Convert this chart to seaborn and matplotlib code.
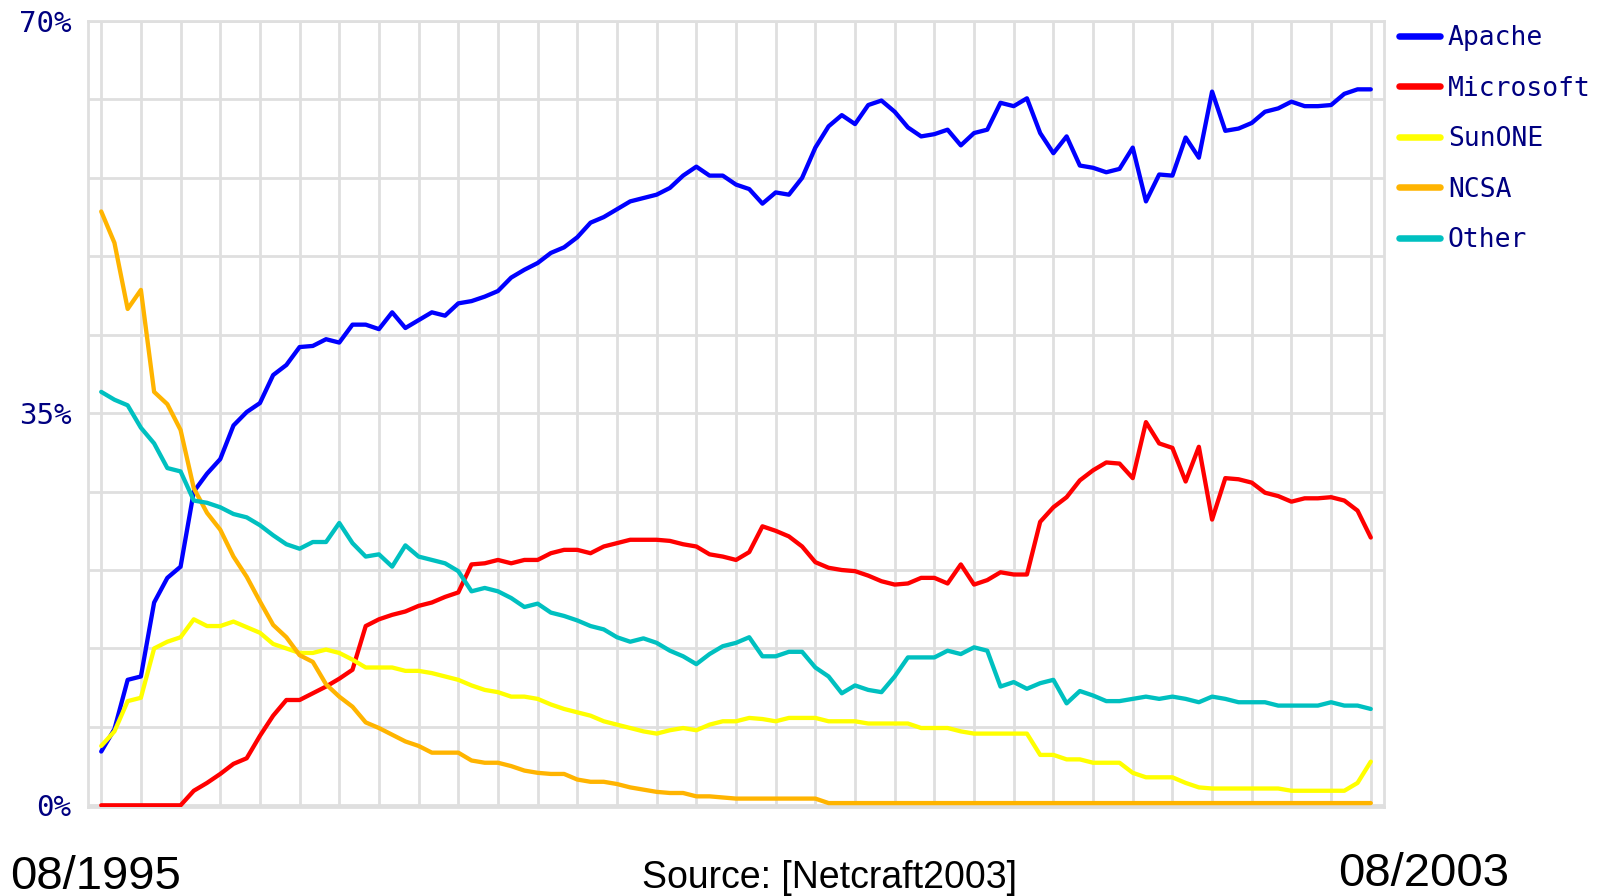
import matplotlib
matplotlib.use("Agg")
import matplotlib.pyplot as plt
import pandas as pd
import seaborn as sns

# monthly samples, 08/1995 .. 08/2003 (97 months), market share in %
months = list(range(97))

apache = [4.8, 6.8, 11.2, 11.5, 18.1, 20.3, 21.3, 28.0, 29.6, 30.9,
          33.9, 35.1, 35.9, 38.4, 39.3, 40.9, 41.0, 41.6, 41.3, 42.9,
          42.9, 42.5, 44.0, 42.6, 43.3, 44.0, 43.7, 44.8, 45.0, 45.4,
          45.9, 47.1, 47.8, 48.4, 49.3, 49.8, 50.7, 52.0, 52.5, 53.2,
          53.9, 54.2, 54.5, 55.1, 56.2, 57.0, 56.2, 56.2, 55.4, 55.0,
          53.7, 54.7, 54.5, 56.0, 58.7, 60.6, 61.6, 60.8, 62.5, 62.9,
          61.9, 60.5, 59.7, 59.9, 60.3, 58.9, 60.0, 60.3, 62.7, 62.4,
          63.1, 60.0, 58.2, 59.7, 57.1, 56.9, 56.5, 56.8, 58.7, 53.9,
          56.3, 56.2, 59.6, 57.8, 63.7, 60.2, 60.4, 60.9, 61.9, 62.2,
          62.8, 62.4, 62.4, 62.5, 63.5, 63.9, 63.9]

microsoft = [0.0, 0.0, 0.0, 0.0, 0.0, 0.0, 0.0, 1.3, 2.0, 2.8,
             3.7, 4.2, 6.2, 8.0, 9.4, 9.4, 10.0, 10.6, 11.3, 12.1,
             16.0, 16.6, 17.0, 17.3, 17.8, 18.1, 18.6, 19.0, 21.5, 21.6,
             21.9, 21.6, 21.9, 21.9, 22.5, 22.8, 22.8, 22.5, 23.1, 23.4,
             23.7, 23.7, 23.7, 23.6, 23.3, 23.1, 22.4, 22.2, 21.9, 22.6,
             24.9, 24.5, 24.0, 23.1, 21.7, 21.2, 21.0, 20.9, 20.5, 20.0,
             19.7, 19.8, 20.3, 20.3, 19.8, 21.5, 19.7, 20.1, 20.8, 20.6,
             20.6, 25.3, 26.6, 27.5, 29.0, 29.9, 30.6, 30.5, 29.2, 34.2,
             32.3, 31.9, 28.9, 32.0, 25.5, 29.2, 29.1, 28.8, 27.9, 27.6,
             27.1, 27.4, 27.4, 27.5, 27.2, 26.3, 23.9]

sunone = [5.3, 6.6, 9.3, 9.6, 14.0, 14.6, 15.0, 16.6, 16.0, 16.0,
          16.4, 15.9, 15.4, 14.4, 14.0, 13.6, 13.6, 13.9, 13.6, 13.0,
          12.3, 12.3, 12.3, 12.0, 12.0, 11.8, 11.5, 11.2, 10.7, 10.3,
          10.1, 9.7, 9.7, 9.5, 9.0, 8.6, 8.3, 8.0, 7.5, 7.2,
          6.9, 6.6, 6.4, 6.7, 6.9, 6.7, 7.2, 7.5, 7.5, 7.8,
          7.7, 7.5, 7.8, 7.8, 7.8, 7.5, 7.5, 7.5, 7.3, 7.3,
          7.3, 7.3, 6.9, 6.9, 6.9, 6.6, 6.4, 6.4, 6.4, 6.4,
          6.4, 4.5, 4.5, 4.1, 4.1, 3.8, 3.8, 3.8, 2.9, 2.5,
          2.5, 2.5, 2.0, 1.6, 1.5, 1.5, 1.5, 1.5, 1.5, 1.5,
          1.3, 1.3, 1.3, 1.3, 1.3, 2.0, 3.9]

ncsa = [53.0, 50.2, 44.3, 46.0, 36.9, 35.8, 33.5, 28.3, 26.1, 24.6,
        22.2, 20.4, 18.2, 16.1, 15.0, 13.4, 12.8, 10.8, 9.7, 8.8,
        7.4, 6.9, 6.3, 5.7, 5.3, 4.7, 4.7, 4.7, 4.0, 3.8,
        3.8, 3.5, 3.1, 2.9, 2.8, 2.8, 2.3, 2.1, 2.1, 1.9,
        1.6, 1.4, 1.2, 1.1, 1.1, 0.8, 0.8, 0.7, 0.6, 0.6,
        0.6, 0.6, 0.6, 0.6, 0.6, 0.2, 0.2, 0.2, 0.2, 0.2,
        0.2, 0.2, 0.2, 0.2, 0.2, 0.2, 0.2, 0.2, 0.2, 0.2,
        0.2, 0.2, 0.2, 0.2, 0.2, 0.2, 0.2, 0.2, 0.2, 0.2,
        0.2, 0.2, 0.2, 0.2, 0.2, 0.2, 0.2, 0.2, 0.2, 0.2,
        0.2, 0.2, 0.2, 0.2, 0.2, 0.2, 0.2]

other = [36.9, 36.2, 35.7, 33.7, 32.3, 30.1, 29.8, 27.2, 27.0, 26.6,
         26.0, 25.7, 25.0, 24.1, 23.3, 22.9, 23.5, 23.5, 25.2, 23.4,
         22.2, 22.4, 21.3, 23.2, 22.2, 21.9, 21.6, 20.9, 19.1, 19.4,
         19.1, 18.5, 17.7, 18.0, 17.2, 16.9, 16.5, 16.0, 15.7, 15.0,
         14.6, 14.9, 14.5, 13.8, 13.3, 12.6, 13.5, 14.2, 14.5, 15.0,
         13.3, 13.3, 13.7, 13.7, 12.3, 11.5, 10.0, 10.7, 10.3, 10.1,
         11.5, 13.2, 13.2, 13.2, 13.8, 13.5, 14.1, 13.8, 10.6, 11.0,
         10.4, 10.9, 11.2, 9.1, 10.2, 9.8, 9.3, 9.3, 9.5, 9.7,
         9.5, 9.7, 9.5, 9.2, 9.7, 9.5, 9.2, 9.2, 9.2, 8.9,
         8.9, 8.9, 8.9, 9.2, 8.9, 8.9, 8.6]

series_names = ["Apache", "Microsoft", "SunONE", "NCSA", "Other"]
series_colors = ["#0000ff", "#ff0000", "#ffff00", "#ffb400", "#00c0c0"]
y_tick_labels = {0: "0%", 35: "35%", 70: "70%"}
start_label = "08/1995"
end_label = "08/2003"
source_label = "Source: [Netcraft2003]"

sns.set_style("white")
plt.rcParams["font.family"] = ["DejaVu Sans Mono"]

W, H = 1602, 896
fig = plt.figure(figsize=(W / 100, H / 100), dpi=100)
ax = fig.add_axes([88 / W, 1 - 807 / H, (1384 - 88) / W, (807 - 21) / H])

grid_color = "#dfdfdf"
all_series = [apache, microsoft, sunone, ncsa, other]
for name, values, color in zip(series_names, all_series, series_colors):
	df = pd.DataFrame({"month": months, "share": values})
	sns.lineplot(data=df, x="month", y="share", color=color, linewidth=3.1,
				 label=name, ax=ax, zorder=3)

ax.set_xlim(-1, 97)
ax.set_ylim(-0.15, 70)
ax.set_xticks(range(0, 97, 3))
ax.set_xticklabels([])
ax.set_yticks(range(0, 71, 7))
ax.set_yticklabels([y_tick_labels.get(v, "") for v in range(0, 71, 7)])
ax.tick_params(length=0)
ax.tick_params(axis="y", pad=12, labelsize=21, labelcolor="#000080")
ax.set_xlabel("")
ax.set_ylabel("")
ax.grid(True, color=grid_color, linewidth=2)
ax.set_axisbelow(True)
for s in ax.spines.values():
	s.set_color(grid_color)
	s.set_linewidth(2)

leg = ax.legend(loc="upper left", bbox_to_anchor=(1399 / W, 1 - 25 / H),
				bbox_transform=fig.transFigure, frameon=False, borderpad=0,
				borderaxespad=0, handlelength=1.55, handletextpad=0.3,
				labelspacing=0.93, fontsize=19, labelcolor="#000080")
for h in leg.get_lines():
	h.set_linewidth(4.7)

# date range and source under the chart
fig.text(10 / W, 1 - 889 / H, start_label, fontsize=34, family="Liberation Sans",
		 va="baseline", ha="left", color="black")
fig.text(1338 / W, 1 - 886 / H, end_label, fontsize=34, family="Liberation Sans",
		 va="baseline", ha="left", color="black")
fig.text(829 / W, 1 - 888 / H, source_label, fontsize=27, family="Liberation Sans",
		 va="baseline", ha="center", color="black")

fig.savefig("out.png", dpi=100)
